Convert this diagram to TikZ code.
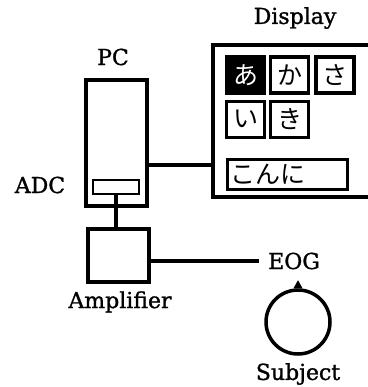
\documentclass[tikz,border=0pt]{standalone}
\usepackage{fontspec}
\setmainfont[FakeBold=1.2]{DejaVu Serif}
\newfontfamily\jpfont{Noto Sans CJK JP}
\usetikzlibrary{positioning, calc}

\begin{document}
\begin{tikzpicture}[
  x=1pt, y=-1pt,
  labelText/.style={font=\fontsize{22}{26}\selectfont, inner sep=0pt},
  unitBox/.style={draw, line width=3.5pt, inner sep=0pt},
  keyBox/.style={draw, line width=3.2pt, inner sep=0pt, minimum width=38pt, minimum height=36pt, font=\jpfont\fontsize{25}{28}\selectfont},
  wire/.style={line width=3.5pt}
]
\useasboundingbox (0,0) rectangle (367,387);

% PC with ADC board
\node[unitBox, minimum width=61pt, minimum height=126pt] (pc) at (116.5,143) {};
\node[labelText] (pcLabel) at (113,57) {PC};
\node[unitBox, line width=2.8pt, minimum width=46pt, minimum height=14pt] (adc) at (116,187) {};
\node[labelText] (adcLabel) at (40,185) {ADC};

% Display
\node[minimum width=158pt, minimum height=152pt, inner sep=0pt] (disp) at (292,121) {};
\draw[wire] (disp.north east) -- (disp.north west) -- (disp.south west) -- (disp.south east);
\node[labelText] (dispLabel) at (295,18) {Display};

% Keys on the display
\node[keyBox, fill=black, text=white] (keyA) at (245.5,75) {あ};
\node[keyBox, right=3pt of keyA] (keyKa) {か};
\node[keyBox, right=4pt of keyKa] (keySa) {さ};
\node[keyBox, below=5pt of keyA] (keyI) {い};
\node[keyBox, right=3pt of keyI] (keyKi) {き};
\node[keyBox, anchor=north west, inner xsep=3pt, text width=114pt, minimum height=30pt, align=left] (entry) at (226,158) {こんに};

% Amplifier, EOG and subject
\node[unitBox, minimum width=61pt, minimum height=53pt] (amp) at (118.5,255.5) {};
\node[labelText] (ampLabel) at (120,302) {Amplifier};
\node[labelText, anchor=west] (eog) at (268,261) {EOG};
\node[circle, draw, line width=3.5pt, minimum size=64pt, inner sep=0pt] (subj) at (298,322) {};
\fill ([xshift=-4.5pt]subj.north) -- ([yshift=8pt]subj.north) -- ([xshift=4.5pt]subj.north) -- cycle;
\node[labelText] (subjLabel) at (298,374) {Subject};

% Wiring
\coordinate (pcOut) at ([yshift=-22pt]pc.east);
\draw[wire] (pcOut) -- (pcOut -| disp.west);
\draw[wire] (adc.south) -- (adc.south |- amp.north);
\draw[wire] ([yshift=-5.5pt]amp.east) -- ([xshift=-9pt]eog.west);

\end{tikzpicture}
\end{document}
